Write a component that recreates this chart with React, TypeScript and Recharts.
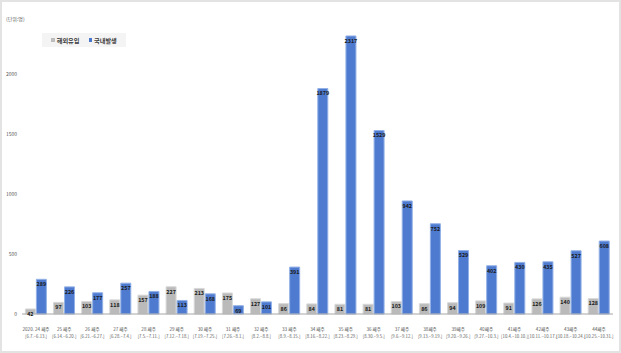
import { Bar, BarChart, LabelList, XAxis, YAxis } from "recharts";

const weeks = [
  "2020. 24 째주", "25 째주", "26 째주", "27 째주", "28 째주", "29 째주", "30 째주",
  "31 째주", "32 째주", "33 째주", "34 째주", "35 째주", "36 째주", "37 째주",
  "38째주", "39째주", "40째주", "41째주", "42째주", "43째주", "44째주",
];
const periods = [
  "[6.7.~6.13.]", "[6.14.~6.20.]", "[6.21.~6.27.]", "[6.28.~7.4.]", "[7.5.~7.11.]",
  "[7.12.~7.18.]", "[7.19.~7.25.]", "[7.26.~8.1.]", "[8.2.~8.8.]", "[8.9.~8.15.]",
  "[8.16.~8.22.]", "[8.23.~8.29.]", "[8.30.~9.5.]", "[9.6.~9.12.]", "[9.13.~9.19.]",
  "[9.20.~9.26.]", "[9.27.~10.3.]", "[10.4.~10.10.]", "[10.11.~10.17.]",
  "[10.18.~10.24.]", "[10.25.~10.31.]",
];
const overseas = [42, 97, 103, 118, 157, 227, 213, 175, 127, 86, 84, 81, 81, 103, 86, 94, 109, 91, 126, 140, 128];
const domestic = [289, 226, 177, 257, 188, 113, 168, 69, 101, 391, 1879, 2317, 1529, 942, 752, 529, 402, 430, 435, 527, 608];
const yTicks = [0, 500, 1000, 1500, 2000];

const rows = weeks.map((w, i) => ({
  week: w,
  period: periods[i],
  overseas: overseas[i],
  domestic: domestic[i],
}));

const FONT = "'Noto Sans CJK KR', 'Noto Sans', sans-serif";

function WeekTick(props: any) {
  const { x, y, payload, index } = props;
  return (
    <g>
      <text x={x} y={y + 9} textAnchor="middle" fontSize={4.6} fill="#595959" fontFamily={FONT}>
        {payload.value}
      </text>
      <text x={x} y={y + 16} textAnchor="middle" fontSize={4.3} fill="#595959" fontFamily={FONT}>
        {periods[index]}
      </text>
    </g>
  );
}

function ValueTick(props: any) {
  const { x, y, payload } = props;
  return (
    <text x={x} y={y + 2} textAnchor="end" fontSize={5} fill="#595959" fontFamily={FONT}>
      {payload.value}
    </text>
  );
}

const labelStyle = { fontSize: 5.4, fontWeight: 700, fill: "#1a1a1a", fontFamily: FONT };

export default function App() {
  return (
    <div
      style={{
        position: "fixed",
        left: 0,
        top: 0,
        width: 621,
        height: 353,
        background: "#fff",
        boxSizing: "border-box",
        border: "2px solid #e3e3e3",
      }}
    >
      <div
        style={{
          position: "absolute",
          left: 4,
          top: 13,
          fontSize: 5,
          color: "#595959",
          fontFamily: FONT,
        }}
      >
        (단위:명)
      </div>
      <div
        style={{
          position: "absolute",
          left: 40,
          top: 31,
          width: 84,
          height: 14,
          background: "#f4f4f4",
          display: "flex",
          alignItems: "center",
          justifyContent: "center",
          gap: 9,
          fontSize: 6.2,
          fontWeight: 700,
          color: "#404040",
          fontFamily: FONT,
        }}
      >
        <span style={{ display: "flex", alignItems: "center", gap: 2 }}>
          <span style={{ width: 3.5, height: 3.5, background: "#bdbdbd" }} />
          해외유입
        </span>
        <span style={{ display: "flex", alignItems: "center", gap: 2 }}>
          <span style={{ width: 3.5, height: 3.5, background: "#4a77cc" }} />
          국내발생
        </span>
      </div>
      <div style={{ position: "absolute", left: -2, top: -2 }}>
        <BarChart
          width={621}
          height={353}
          data={rows}
          margin={{ top: 14, right: 8, bottom: 9, left: 0 }}
          barCategoryGap="12%"
          barGap={1}
        >
          <XAxis
            dataKey="week"
            interval={0}
            tick={<WeekTick />}
            tickLine={false}
            axisLine={{ stroke: "#a6a6a6" }}
            height={30}
          />
          <YAxis
            domain={[0, 2500]}
            ticks={yTicks}
            width={22}
            tick={<ValueTick />}
            tickLine={false}
            axisLine={false}
            tickSize={0}
            tickMargin={5}
          />
          <Bar dataKey="overseas" fill="#bababa" stroke="#d8d8d8" strokeWidth={1} isAnimationActive={false}>
            <LabelList dataKey="overseas" position="insideTop" offset={3} style={labelStyle} />
          </Bar>
          <Bar dataKey="domestic" fill="#4e7bd0" stroke="#93b1e6" strokeWidth={1} isAnimationActive={false}>
            <LabelList dataKey="domestic" position="insideTop" offset={3} style={labelStyle} />
          </Bar>
        </BarChart>
      </div>
    </div>
  );
}
